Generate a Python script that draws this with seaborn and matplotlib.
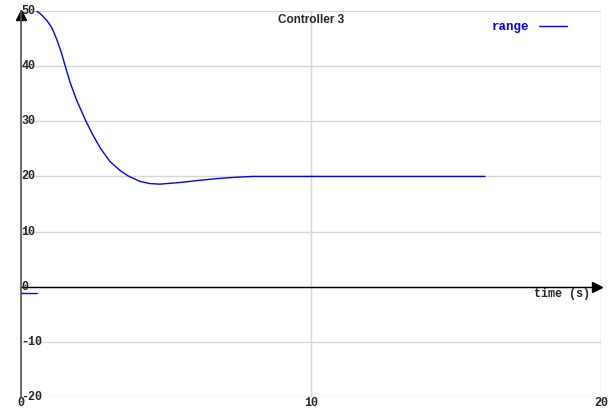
import numpy as np
import pandas as pd
import matplotlib
matplotlib.use("Agg")
import matplotlib.pyplot as plt
import seaborn as sns

# values
time_s = [0.54, 0.71, 0.89, 1.06, 1.23, 1.40, 1.52, 1.69, 1.92, 2.24, 2.49, 2.75,
          3.07, 3.41, 3.69, 4.10, 4.45, 4.79, 5.48, 6.17, 6.75, 7.4, 8.0, 9.0,
          10.0, 12.0, 14.0, 16.0]
range_vals = [50.0, 49.3, 48.3, 47.0, 44.9, 42.3, 40.1, 37.1, 33.8, 30.0, 27.4, 25.0,
              22.7, 21.1, 20.1, 19.1, 18.7, 18.6, 18.9, 19.3, 19.6, 19.85, 20.0, 20.0,
              20.0, 20.0, 20.0, 20.0]
stub_t = [0.0, 0.55]
stub_vals = [-1.1, -1.1]

y_ticks = [50, 40, 30, 20, 10, 0, -10, -20]
x_ticks = [0, 10, 20]
title = "Controller 3"
x_label = "time (s)"

df = pd.DataFrame({"time": time_s, "range": range_vals})

sns.set_style("white")
mono = {"family": "Liberation Mono", "weight": "bold"}

fig = plt.figure(figsize=(6.15, 4.11), dpi=100)
ax = fig.add_axes([21 / 615, 14 / 411, 580 / 615, 386 / 411])

sns.lineplot(data=df, x="time", y="range", color="#0000ff", linewidth=1.0,
             label="range", ax=ax)
ax.plot(stub_t, stub_vals, color="#0000ff", linewidth=1.0, clip_on=False)

ax.set_xlim(0, 20)
ax.set_ylim(-20, 50)
ax.set_xticks(x_ticks)
ax.set_yticks(y_ticks)
ax.set_xticklabels([])
ax.set_yticklabels([])
ax.tick_params(length=0)
ax.grid(True, color="#d6d6d6", linewidth=1.0)
ax.set_xlabel("")
ax.set_ylabel("")
for s in ["top", "right", "bottom"]:
    ax.spines[s].set_visible(False)
ax.spines["left"].set_color("#555555")
ax.spines["left"].set_linewidth(1.2)

# axes with arrows
ax.axhline(0, color="black", linewidth=1.0)
ax.plot([0], [49.2], marker="^", color="black", markersize=7, clip_on=False)
ax.plot([19.85], [0], marker=">", color="black", markersize=7, clip_on=False)

for v in y_ticks:
    ax.text(0.02, v, str(v), ha="left", va="center", fontsize=8.5, fontdict=mono)
for v in x_ticks:
    ax.text(v, -21.1, str(v), ha="center", va="center", fontsize=8.5,
            fontdict=mono, clip_on=False)

ax.text(19.62, -0.3, x_label, ha="right", va="top", fontsize=8.5, fontdict=mono)
ax.text(10, 48.4, title, ha="center", va="center", fontsize=8.5,
        family="Liberation Sans", weight="bold")

leg = ax.legend(loc="upper right", bbox_to_anchor=(0.96, 1.003), frameon=False,
                markerfirst=False, handlelength=2.2, labelcolor="#0000ff",
                prop={"family": "Liberation Mono", "weight": "bold", "size": 9})

fig.savefig("out.png", dpi=100)
